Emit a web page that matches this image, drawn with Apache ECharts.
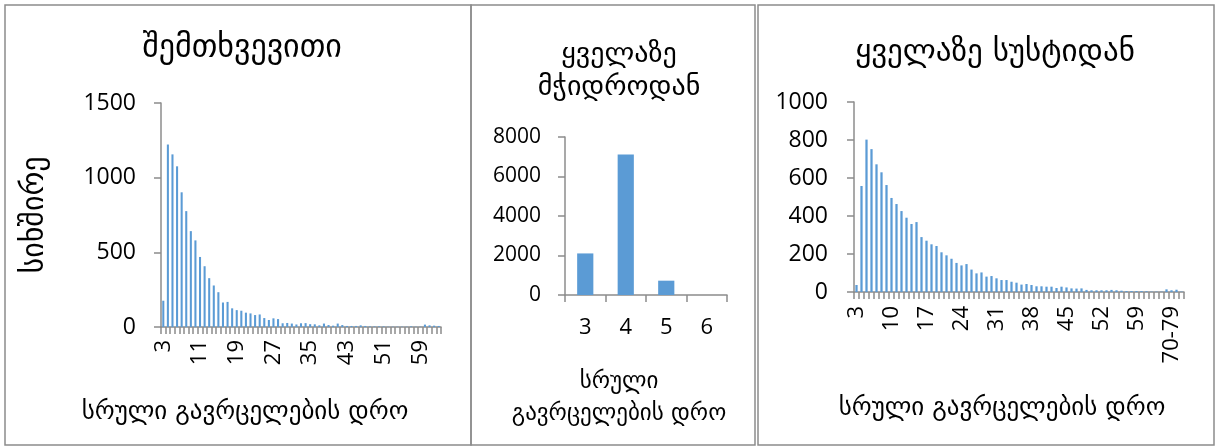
<!DOCTYPE html>
<html>
<head>
<meta charset="utf-8">
<script src="https://cdn.jsdelivr.net/npm/echarts@6/dist/echarts.min.js"></script>
<style>
  html, body { margin: 0; padding: 0; background: #fff; }
  #chart { width: 1218px; height: 448px; }
</style>
</head>
<body>
<div id="chart"></div>
<script>
// Panel titles and axis titles
const titleRandom = 'შემთხვევითი';
const titleDense = 'ყველაზე\nმჭიდროდან';
const titleWeak = 'ყველაზე სუსტიდან';
const yName = 'სიხშირე';
const xName = 'სრული გავრცელების დრო';
const xNameTwoLines = 'სრული\nგავრცელების დრო';

// Random start: full spread time 3..63
const randomCats = [];
for (let t = 3; t <= 63; t++) randomCats.push(String(t));
const randomCounts = [176, 1222, 1156, 1076, 902, 776, 642, 580, 469, 407, 327, 278, 233, 164, 168,
  125, 113, 109, 96, 91, 80, 84, 60, 47, 58, 53, 25, 27, 23, 17, 25, 26, 19, 18, 11, 23, 13, 9, 23,
  13, 7, 7, 7, 11, 7, 4, 4, 4, 4, 2, 2, 2, 2, 2, 4, 2, 2, 16, 11, 9, 7];

// Start from the densest node
const denseCats = ['3', '4', '5', '6'];
const denseCounts = [2105, 7110, 725, 0];

// Start from the weakest node
const weakCats = [];
for (let t = 3; t <= 64; t++) weakCats.push(String(t));
weakCats.push('65-69', '70-79', '80-89', '90-99');
const weakCounts = [37, 558, 802, 752, 672, 630, 563, 495, 463, 426, 391, 358, 368, 289, 270, 251, 242,
  209, 193, 175, 153, 140, 147, 118, 98, 103, 81, 84, 72, 63, 63, 54, 49, 39, 42, 37, 30, 30, 28, 28, 21,
  28, 24, 19, 18, 19, 11, 9, 9, 9, 9, 11, 9, 7, 5, 5, 5, 5, 4, 2, 2, 2, 14, 9, 12, 2];

const BAR = '#5b9bd5';
const AXIS = '#8c8c8c';
const NUM_FONT = '"Open Sans", "Liberation Sans", sans-serif';
const GEO_FONT = '"DejaVu Sans", sans-serif';

function catAxis(gridIndex, data, interval, rotate, fontSize, margin) {
  return {
    type: 'category', gridIndex, data,
    axisLine: { lineStyle: { color: AXIS, width: 1.5 } },
    axisTick: { show: true, interval: 0, length: 7, lineStyle: { color: AXIS, width: 1.5 } },
    axisLabel: { interval, rotate, color: '#000', fontFamily: NUM_FONT, fontSize, margin },
    splitLine: { show: false }
  };
}
function valAxis(gridIndex, max, interval, fontSize, margin) {
  return {
    type: 'value', gridIndex, min: 0, max, interval,
    axisLine: { show: true, lineStyle: { color: AXIS, width: 1.5 } },
    axisTick: { show: true, length: 7, lineStyle: { color: AXIS, width: 1.5 } },
    axisLabel: { color: '#000', fontFamily: NUM_FONT, fontSize, margin,
      formatter: (v) => String(v) },
    splitLine: { show: false }
  };
}
function panel(x, w) {
  return { type: 'rect', shape: { x, y: 5, width: w, height: 440 },
    style: { fill: 'none', stroke: '#8c8c8c', lineWidth: 1.5 }, silent: true };
}
function geoText(size, extra) {
  return Object.assign({ fontFamily: GEO_FONT, fontSize: size, fontWeight: 500, color: '#000' }, extra || {});
}

const chart = echarts.init(document.getElementById('chart'), null, { renderer: 'canvas' });
chart.setOption({
  animation: false,
  backgroundColor: '#fff',
  title: [
    { text: titleRandom, left: 237, top: 28, textAlign: 'center', textStyle: geoText(32) },
    { text: titleDense, left: 614, top: 33, textAlign: 'center', textStyle: geoText(28, { lineHeight: 33 }) },
    { text: titleWeak, left: 990, top: 32, textAlign: 'center', textStyle: geoText(31) },
    { text: xName, left: 240, top: 395, textAlign: 'center', textStyle: geoText(25) },
    { text: xNameTwoLines, left: 614, top: 361, textAlign: 'center', textStyle: geoText(23, { lineHeight: 32 }) },
    { text: xName, left: 997, top: 391, textAlign: 'center', textStyle: geoText(25) }
  ],
  graphic: [
    panel(5, 466),
    panel(471, 284),
    panel(758, 456),
    { type: 'text', x: 35, y: 215, rotation: Math.PI / 2,
      style: { text: yName, fontFamily: GEO_FONT, fontSize: 30, fontWeight: 500, fill: '#000',
        align: 'center', verticalAlign: 'middle' } }
  ],
  grid: [
    { left: 161, top: 103, width: 280, height: 224 },
    { left: 565, top: 137, width: 162, height: 158 },
    { left: 854, top: 102, width: 330, height: 190 }
  ],
  xAxis: [
    catAxis(0, randomCats, 7, 90, 22, 13),
    catAxis(1, denseCats, 0, 0, 22, 22),
    catAxis(2, weakCats, 6, 90, 22, 14)
  ],
  yAxis: [
    valAxis(0, 1500, 500, 23, 25),
    valAxis(1, 8000, 2000, 21, 24),
    valAxis(2, 1000, 200, 23, 26)
  ],
  series: [
    { type: 'bar', xAxisIndex: 0, yAxisIndex: 0, data: randomCounts,
      barCategoryGap: '55%', itemStyle: { color: BAR } },
    { type: 'bar', xAxisIndex: 1, yAxisIndex: 1, data: denseCounts,
      barCategoryGap: '60%', itemStyle: { color: BAR } },
    { type: 'bar', xAxisIndex: 2, yAxisIndex: 2, data: weakCounts,
      barCategoryGap: '55%', itemStyle: { color: BAR } }
  ]
});
</script>
</body>
</html>
